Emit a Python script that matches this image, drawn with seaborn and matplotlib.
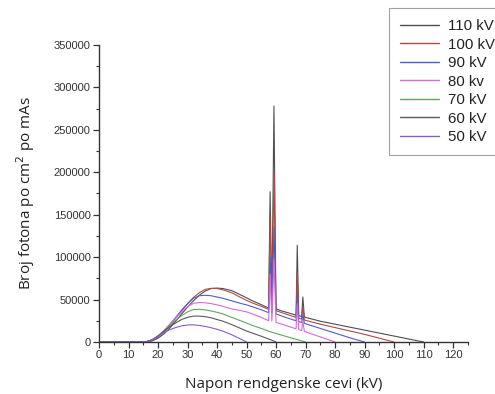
import numpy as np
import pandas as pd
import matplotlib
matplotlib.use("Agg")
import matplotlib.pyplot as plt
from matplotlib.ticker import MultipleLocator
from matplotlib.lines import Line2D
import seaborn as sns

# Energy grid (kV)
energy = [0, 15, 16, 18, 20, 22, 24, 26, 28, 30, 32, 34, 36, 38, 40, 42, 45, 48, 50,
          52, 55, 57.5, 58.0, 58.6, 59.3, 60, 62, 65, 66.8, 67.2, 67.7, 68.7, 69.1,
          69.6, 70, 75, 80, 85, 90, 95, 100, 105, 110]

i_110 = [0, 0, 100, 1200, 4500, 9500, 16500, 24500, 33000, 41000, 48500, 55000, 60000,
         63000, 63500, 63000, 60500, 55500, 52000, 48500, 44000, 40000, 177000, 39500,
         278000, 39000, 36500, 33500, 31500, 114000, 31000, 30000, 53000, 29500, 29000,
         24500, 21000, 17500, 14000, 10500, 7000, 3500, 0]
i_100 = [0, 0, 200, 2000, 6000, 12000, 19500, 28000, 37000, 45000, 52500, 58000, 62000,
         63200, 63000, 61500, 58000, 52500, 49000, 46000, 42000, 38500, 150000, 38000,
         200000, 37000, 34500, 31000, 29000, 82000, 28000, 27000, 42000, 26000, 25500,
         21000, 17000, 13000, 9000, 4500, 0]
i_90 = [0, 0, 300, 2500, 7000, 13000, 20500, 29000, 37500, 45000, 51500, 54500, 55000,
        54500, 53000, 51500, 48500, 45500, 43700, 41500, 38000, 34500, 100000, 34000,
        135000, 33000, 30500, 27000, 25000, 58000, 24000, 23000, 32000, 22000, 21500,
        16000, 10500, 5000, 0]
i_80 = [0, 0, 300, 2500, 7000, 13500, 21000, 28500, 35500, 41500, 45500, 46500, 46200,
        45200, 43800, 42000, 39000, 37000, 35500, 33000, 29000, 25000, 80000, 24500,
        97000, 23000, 21000, 17500, 15500, 45000, 14500, 13500, 25000, 12500, 12000,
        6000, 0]
i_70 = [0, 0, 300, 2500, 7000, 13000, 19500, 25500, 31000, 35500, 38200, 38500, 37800,
        36500, 35000, 33000, 29000, 25000, 22300, 19500, 16000, 12800, 12200, 11500,
        10800, 10000, 8000, 5000, 3300, 2800, 2300, 1300, 900, 400, 0]
i_60 = [0, 0, 300, 2500, 7000, 12500, 18000, 22500, 26500, 29000, 30500, 30500, 29800,
        28500, 26500, 24500, 20500, 16000, 13000, 10500, 6800, 3500, 2800, 2100, 1000, 0]
i_50 = [0, 0, 300, 2500, 6500, 11000, 14500, 17000, 19000, 20000, 20200, 19500, 18300,
        16800, 15000, 12800, 8500, 3500, 0]

labels = ["110 kV", "100 kV", "90 kV", "80 kv", "70 kV", "60 kV", "50 kV"]
series = [i_110, i_100, i_90, i_80, i_70, i_60, i_50]
colors = ["#4f4f4f", "#b04a45", "#4d5ec8", "#d86ad8", "#5fa85f", "#5a5a5a", "#8a5cc8"]

x_ticks = list(range(0, 121, 10))
y_ticks = list(range(0, 350001, 50000))

frames = []
for lab, vals in zip(labels, series):
    frames.append(pd.DataFrame({"kV": energy[:len(vals)], "count": vals, "series": lab}))
df = pd.concat(frames, ignore_index=True)

sns.set_theme(style="white")
plt.rcParams["font.family"] = ["Liberation Sans", "DejaVu Sans"]

fig = plt.figure(figsize=(4.95, 3.94), dpi=100)
ax = fig.add_axes([0.2, 0.132, 0.745, 0.754])

sns.lineplot(data=df, x="kV", y="count", hue="series", hue_order=labels,
             palette=dict(zip(labels, colors)), estimator=None, sort=False,
             linewidth=0.8, legend=False, ax=ax)

ax.set_xlim(0, 125)
ax.set_ylim(0, 350000)
ax.set_xticks(x_ticks)
ax.set_yticks(y_ticks)
ax.xaxis.set_minor_locator(MultipleLocator(5))
ax.yaxis.set_minor_locator(MultipleLocator(25000))
for s in ["top", "right"]:
    ax.spines[s].set_visible(False)
for s in ["left", "bottom"]:
    ax.spines[s].set_color("#333333")
    ax.spines[s].set_linewidth(1.0)
ax.tick_params(which="major", direction="out", length=4, width=0.9, color="#333333",
               labelsize=8, labelcolor="#333333", pad=2, bottom=True, left=True)
ax.tick_params(which="minor", direction="out", length=2.5, width=0.8, color="#333333",
               bottom=True, left=True)

ax.set_xlabel("Napon rendgenske cevi (kV)", fontsize=11, color="#222222",
              family=["Open Sans", "DejaVu Sans"], labelpad=12)
ax.set_ylabel("Broj fotona po cm$^2$ po mAs", fontsize=11, color="#222222",
              family=["Open Sans", "DejaVu Sans"], labelpad=12)

handles = [Line2D([0], [0], color=c, lw=1.0) for c in colors]
leg = fig.legend(handles, labels, loc="upper left", bbox_to_anchor=(0.786, 0.98),
                 fontsize=10.8, frameon=True, fancybox=False, handlelength=2.6,
                 handletextpad=0.55, labelspacing=0.3, borderaxespad=0,
                 borderpad=0.75)
leg.get_frame().set_edgecolor("#888888")
leg.get_frame().set_linewidth(0.8)
for t in leg.get_texts():
    t.set_color("#222222")

fig.savefig("out.png", dpi=100)
